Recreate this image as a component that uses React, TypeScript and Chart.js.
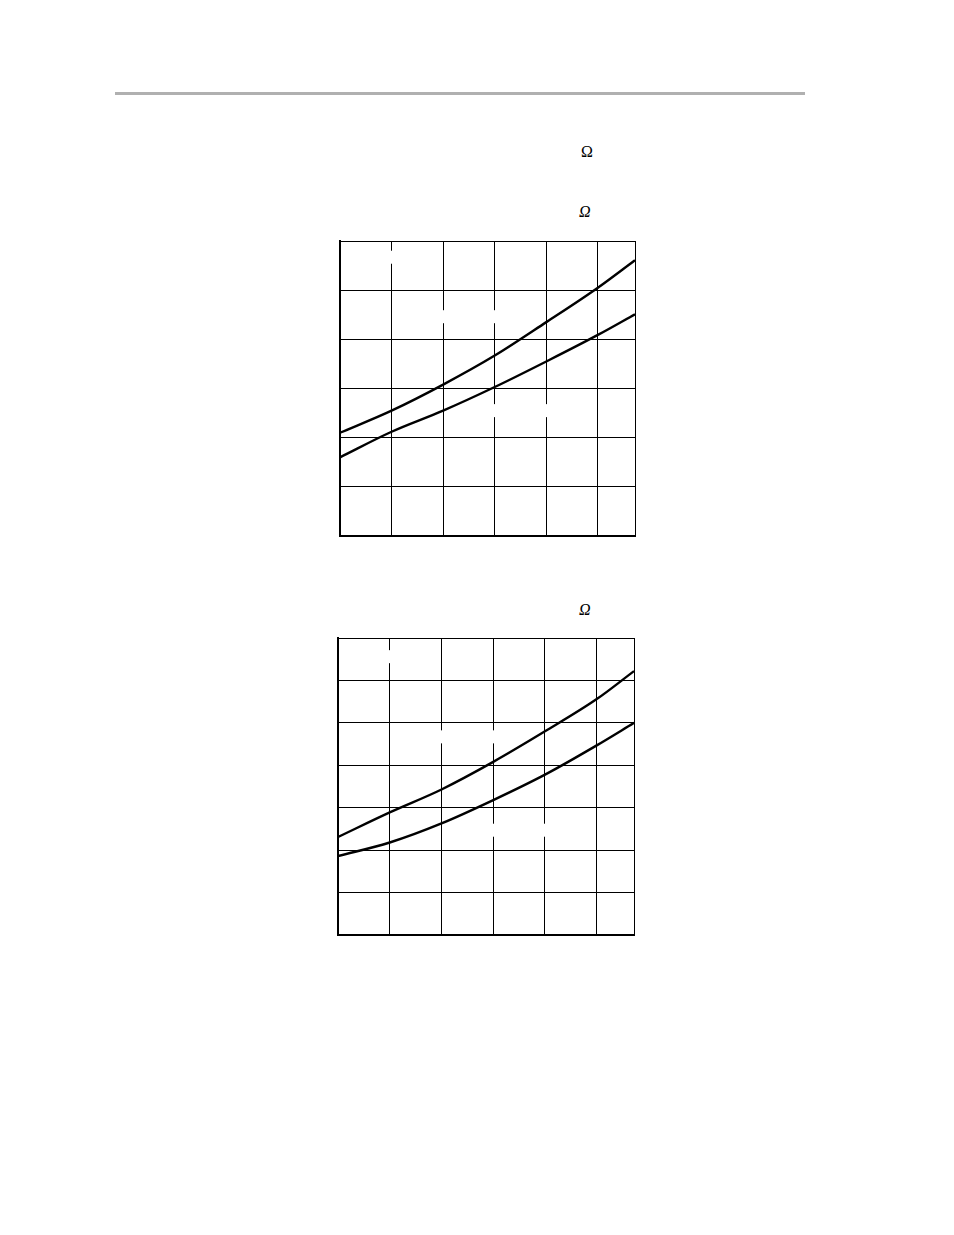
import { useEffect, useRef } from "react";
import { Chart, registerables } from "chart.js";

Chart.register(...registerables);

// chart 1 (six divisions vertically)
const xTicks1 = [0, 1, 2, 3, 4, 5, 5.72];
const upper1 = [2.1, 2.55, 3.08, 3.67, 4.35, 5.05, 5.61];
const lower1 = [1.6, 2.12, 2.55, 3.03, 3.55, 4.09, 4.51];
// label blanks (text lost in the source), in data units [x, y]
const blanks1 = [
  [1, 5.67],
  [2.5, 4.46],
  [3.5, 2.55],
];

// chart 2 (seven divisions vertically)
const xTicks2 = [0, 1, 2, 3, 4, 5, 5.72];
const upper2 = [2.31, 2.89, 3.43, 4.08, 4.8, 5.56, 6.22];
const lower2 = [1.86, 2.18, 2.63, 3.18, 3.78, 4.47, 5.0];
const blanks2 = [
  [1, 6.56],
  [2.5, 4.67],
  [3.5, 2.47],
];

const blankPlugin = (blanks: number[][]) => ({
  id: "blanks",
  beforeDatasetsDraw(chart: any) {
    const { ctx, scales } = chart;
    ctx.save();
    ctx.fillStyle = "#ffffff";
    blanks.forEach(([bx, by], i) => {
      const half = i === 0 ? 0.35 : 0.65;
      const x0 = scales.x.getPixelForValue(bx - half);
      const x1 = scales.x.getPixelForValue(bx + half);
      const yc = scales.y.getPixelForValue(by);
      ctx.fillRect(x0, yc - 6.5, x1 - x0, 13);
    });
    ctx.restore();
  },
});

function Plot({
  xs,
  upper,
  lower,
  yMax,
  blanks,
  style,
}: {
  xs: number[];
  upper: number[];
  lower: number[];
  yMax: number;
  blanks: number[][];
  style: React.CSSProperties;
}) {
  const canvasRef = useRef<HTMLCanvasElement>(null);

  useEffect(() => {
    if (!canvasRef.current) return;
    const line = (data: number[]) => ({
      data: xs.map((x, i) => ({ x, y: data[i] })),
      borderColor: "#000",
      borderWidth: 2.4,
      pointRadius: 0,
      fill: false,
      cubicInterpolationMode: "monotone" as const,
    });
    const chart = new Chart(canvasRef.current, {
      type: "line",
      data: { datasets: [line(upper), line(lower)] },
      options: {
        animation: false,
        responsive: false,
        layout: { padding: 10 },
        plugins: { legend: { display: false }, tooltip: { enabled: false } },
        scales: {
          x: {
            type: "linear",
            min: 0,
            max: xs[xs.length - 1],
            afterBuildTicks: (axis: any) => {
              axis.ticks = xs.map((v) => ({ value: v }));
            },
            ticks: { display: false },
            grid: { color: "#000", lineWidth: 1, drawTicks: false },
            border: { color: "#000", width: 2 },
          },
          y: {
            min: 0,
            max: yMax,
            ticks: { display: false, stepSize: 1 },
            grid: { color: "#000", lineWidth: 1, drawTicks: false },
            border: { color: "#000", width: 2 },
          },
        },
      },
      plugins: [blankPlugin(blanks)],
    });
    return () => chart.destroy();
  }, []);

  return (
    <canvas
      ref={canvasRef}
      width={style.width as number}
      height={style.height as number}
      style={{ position: "absolute", ...style }}
    />
  );
}

export default function App() {
  const omega: React.CSSProperties = {
    position: "absolute",
    fontFamily: "'Liberation Serif', 'DejaVu Serif', serif",
    fontSize: 16,
    lineHeight: 1,
  };
  return (
    <div
      style={{
        position: "absolute",
        left: 0,
        top: 0,
        width: 954,
        height: 1235,
        background: "#fff",
      }}
    >
      <div
        style={{
          position: "absolute",
          left: 115,
          top: 92,
          width: 690,
          height: 3,
          background: "#b0b0b0",
        }}
      />
      <span style={{ ...omega, left: 581, top: 144 }}>Ω</span>
      <span style={{ ...omega, left: 579, top: 204, fontStyle: "italic" }}>Ω</span>
      <span style={{ ...omega, left: 579, top: 602, fontStyle: "italic" }}>Ω</span>
      <Plot
        xs={xTicks1}
        upper={upper1}
        lower={lower1}
        yMax={6}
        blanks={blanks1}
        style={{ left: 330, top: 231, width: 315, height: 315 }}
      />
      <Plot
        xs={xTicks2}
        upper={upper2}
        lower={lower2}
        yMax={7}
        blanks={blanks2}
        style={{ left: 328, top: 628, width: 316, height: 317 }}
      />
    </div>
  );
}
